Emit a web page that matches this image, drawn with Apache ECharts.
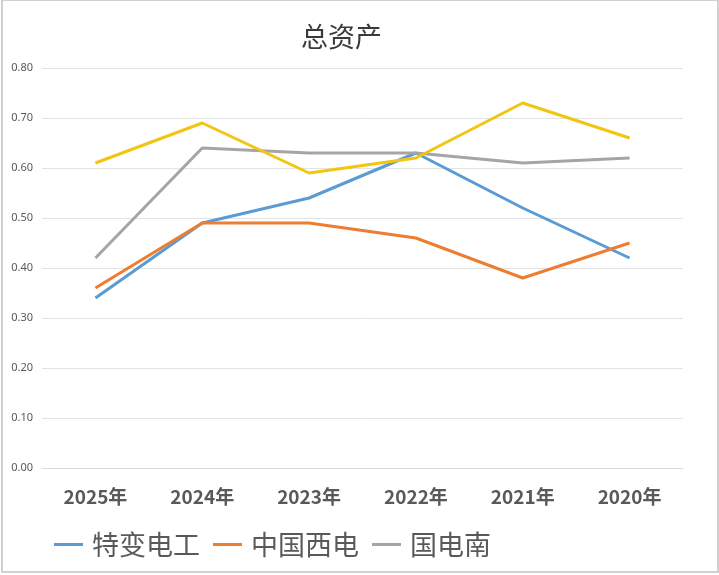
<!DOCTYPE html>
<html><head><meta charset="utf-8">
<script src="https://cdn.jsdelivr.net/npm/echarts@6/dist/echarts.min.js"></script>
<style>html,body{margin:0;padding:0;background:#fff}#c{width:719px;height:575px}</style>
</head><body><div id="c"></div>
<script>
const categories = ['2025年','2024年','2023年','2022年','2021年','2020年'];
const tbea = [0.34,0.49,0.54,0.63,0.52,0.42];
const xd = [0.36,0.49,0.49,0.46,0.38,0.45];
const gdn = [0.42,0.64,0.63,0.63,0.61,0.62];
const fourth = [0.61,0.69,0.59,0.62,0.73,0.66];
const seriesNames = ['特变电工','中国西电','国电南','系列4'];
const yTicks = {min:0,max:0.8,interval:0.1};

const chart = echarts.init(document.getElementById('c'));
const lineSeries = (name, data, color) => ({
  name, type:'line', data, symbol:'none', smooth:false,
  lineStyle:{color, width:3}, itemStyle:{color}
});
chart.setOption({
  animation:false,
  title:{text:'总资产', left:296, top:18,
    textStyle:{fontFamily:'Noto Sans CJK SC', fontSize:27, fontWeight:'normal', color:'#3a3a3a'}},
  grid:{left:42, right:36, top:68, bottom:107},
  legend:{data:seriesNames.slice(0,3), left:49, top:526, itemWidth:29, itemHeight:3, itemGap:13,
    icon:'rect',
    textStyle:{fontFamily:'Noto Sans CJK SC', fontSize:27, color:'#595959', padding:[0,0,0,4]}},
  xAxis:{type:'category', data:categories, boundaryGap:true,
    axisLine:{lineStyle:{color:'#d9d9d9'}}, axisTick:{show:false},
    axisLabel:{fontSize:19, fontWeight:'bold', color:'#595959', margin:19, fontFamily:'Noto Sans CJK SC'}},
  yAxis:{type:'value', min:yTicks.min, max:yTicks.max, interval:yTicks.interval,
    axisLabel:{formatter:v=>v.toFixed(2), fontSize:11, color:'#595959', margin:9, fontFamily:'Noto Sans'},
    splitLine:{lineStyle:{color:'#e3e3e3'}}, axisLine:{show:false}, axisTick:{show:false}},
  series:[
    lineSeries(seriesNames[0], tbea, '#5B9BD5'),
    lineSeries(seriesNames[1], xd, '#ED7D31'),
    lineSeries(seriesNames[2], gdn, '#A5A5A5'),
    lineSeries(seriesNames[3], fourth, '#F2C512')
  ],
  graphic:[{type:'rect', shape:{x:2,y:0,width:716,height:572}, style:{fill:'none', stroke:'#d0d0d0', lineWidth:2}, silent:true}]
});
</script></body></html>
